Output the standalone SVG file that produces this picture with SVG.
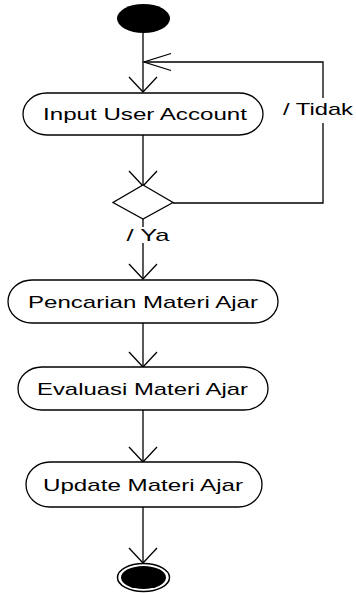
<svg xmlns="http://www.w3.org/2000/svg" width="356" height="593" viewBox="0 0 356 593">
<style>
.node{fill:#fff;stroke:#000;stroke-width:1.3}
.lbl{font-family:"Liberation Sans",Arial,sans-serif;font-size:17px;fill:#000}
.edge{fill:none;stroke:#000;stroke-width:1.3}
</style>
<defs>
<marker id="av" markerUnits="userSpaceOnUse" orient="auto" markerWidth="40" markerHeight="40" viewBox="-20 -20 40 40" refX="0" refY="0" overflow="visible">
<path d="M-15,-14 L0,0 L-15,14" fill="none" stroke="#000" stroke-width="1.3"/>
</marker>
<marker id="ah" markerUnits="userSpaceOnUse" orient="auto" markerWidth="60" markerHeight="40" viewBox="-30 -20 60 40" refX="0" refY="0" overflow="visible">
<path d="M-27,-8.5 L0,0 L-27,8.5" fill="none" stroke="#000" stroke-width="1.3"/>
</marker>
</defs>
<rect width="356" height="593" fill="#fff"/>
<g id="connectors">
<line class="edge" x1="143" y1="33" x2="143" y2="92" marker-end="url(#av)"/>
<line class="edge" x1="143" y1="135" x2="143" y2="186" marker-end="url(#av)"/>
<polyline class="edge" points="173,203 323,203 323,123"/>
<polyline class="edge" points="323,98 323,62 144,62" marker-end="url(#ah)"/>
<line class="edge" x1="143" y1="219" x2="143" y2="227"/>
<line class="edge" x1="143" y1="243" x2="143" y2="279" marker-end="url(#av)"/>
<line class="edge" x1="143" y1="323" x2="143" y2="367" marker-end="url(#av)"/>
<line class="edge" x1="143" y1="410" x2="143" y2="462" marker-end="url(#av)"/>
<line class="edge" x1="143" y1="507" x2="143" y2="563" marker-end="url(#av)"/>
<text class="lbl" x="318" y="115" text-anchor="middle" textLength="70" lengthAdjust="spacingAndGlyphs">/ Tidak</text>
<text class="lbl" x="148" y="241" text-anchor="middle" textLength="43" lengthAdjust="spacingAndGlyphs">/ Ya</text>
</g>
<g id="start">
<ellipse cx="143.5" cy="18.5" rx="26.5" ry="14.5" fill="#000"/>
</g>
<g id="input-user-account">
<rect class="node" x="23" y="93" width="240" height="42" rx="24" ry="21"/>
<text class="lbl" x="145" y="120" text-anchor="middle" textLength="204" lengthAdjust="spacingAndGlyphs">Input User Account</text>
</g>
<g id="decision">
<polygon class="node" points="143,185 173,202.5 143,219 113,202.5"/>
</g>
<g id="pencarian">
<rect class="node" x="8" y="280" width="270" height="43" rx="24" ry="21.5"/>
<text class="lbl" x="143" y="307.5" text-anchor="middle" textLength="230" lengthAdjust="spacingAndGlyphs">Pencarian Materi Ajar</text>
</g>
<g id="evaluasi">
<rect class="node" x="18" y="367" width="250" height="43" rx="24" ry="21.5"/>
<text class="lbl" x="142.5" y="394.5" text-anchor="middle" textLength="211" lengthAdjust="spacingAndGlyphs">Evaluasi Materi Ajar</text>
</g>
<g id="update">
<rect class="node" x="26" y="462" width="236" height="45" rx="24" ry="22.5"/>
<text class="lbl" x="143" y="490.5" text-anchor="middle" textLength="200" lengthAdjust="spacingAndGlyphs">Update Materi Ajar</text>
</g>
<g id="end">
<ellipse cx="143.5" cy="577.5" rx="26" ry="14" fill="#fff" stroke="#000" stroke-width="1.5"/>
<ellipse cx="143.5" cy="577.5" rx="22.5" ry="11.5" fill="#000"/>
</g>
</svg>
